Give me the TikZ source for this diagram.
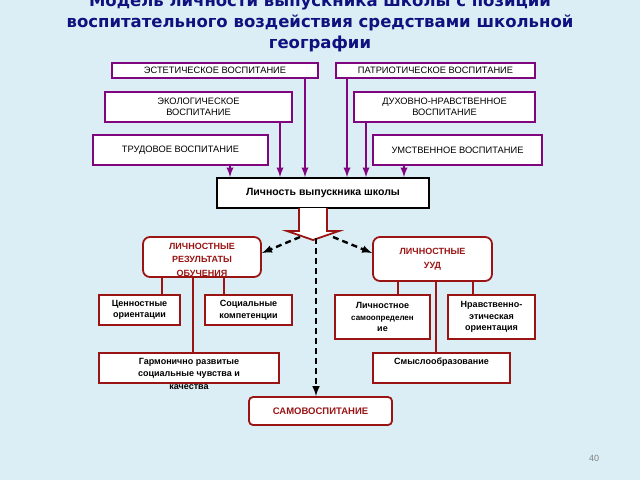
\documentclass[tikz,border=0pt]{standalone}
\usepackage{fontspec}
\setmainfont{Liberation Sans}
\newfontfamily\titlefont{DejaVu Sans}
\usetikzlibrary{arrows,positioning}
\definecolor{bgblue}{HTML}{DCEEF5}
\definecolor{vospit}{HTML}{7F067F}
\definecolor{lichn}{HTML}{9A1414}
\definecolor{navy}{HTML}{10107F}
\tikzset{>=latex,
         vbox/.style={draw=vospit, line width=1.8pt, fill=white, font=\fontsize{9.3}{11}\selectfont,
                      align=center, inner sep=0pt},
         rbox/.style={draw=lichn, line width=1.8pt, fill=white, font=\bfseries\fontsize{9}{11.5}\selectfont,
                      align=center, inner sep=0pt},
         toptext/.style={anchor=north, align=center, inner sep=0pt, yshift=-#1},
         vline/.style={vospit, line width=2.2pt, ->},
         rline/.style={lichn, line width=1.8pt},
         dline/.style={black, line width=2.4pt, dash pattern=on 6pt off 4pt, ->}}
\begin{document}
\begin{tikzpicture}[x=1pt, y=-1pt]
	  \fill[bgblue] (0,0) rectangle (640,480);
	  \useasboundingbox (0,0) rectangle (640,480);
	  \node[font=\titlefont\bfseries\fontsize{16.5}{21}\selectfont, text=navy, align=center]
	    (title) at (320,23) {Модель личности выпускника школы с позиции\\
	      воспитательного воздействия средствами школьной\\ географии};
	  % education directions
	  \node[vbox, minimum width=206, minimum height=15] (est) at (215,70.5) {ЭСТЕТИЧЕСКОЕ ВОСПИТАНИЕ};
	  \node[vbox, minimum width=199, minimum height=15] (pat) at (435.5,70.5) {ПАТРИОТИЧЕСКОЕ ВОСПИТАНИЕ};
	  \node[vbox, minimum width=187, minimum height=30] (eko) at (198.5,107) {ЭКОЛОГИЧЕСКОЕ\\ВОСПИТАНИЕ};
	  \node[vbox, minimum width=181, minimum height=30] (duh) at (444.5,107) {ДУХОВНО-НРАВСТВЕННОЕ\\ВОСПИТАНИЕ};
	  \node[vbox, minimum width=175, minimum height=30] (trud) at (180.5,150) {ТРУДОВОЕ ВОСПИТАНИЕ};
	  \node[vbox, minimum width=169, minimum height=30] (um) at (457.5,150) {УМСТВЕННОЕ ВОСПИТАНИЕ};
	  \node[draw, line width=1.8pt, fill=white, minimum width=212, minimum height=30, inner sep=0pt,
	        font=\bfseries\fontsize{10.5}{12}\selectfont] (lv) at (323,193) {Личность выпускника школы};
	  \draw[vline] (trud.south -| 230,0) -- (lv.north -| 230,0);
	  \draw[vline] (eko.south -| 280,0) -- (lv.north -| 280,0);
	  \draw[vline] (est.south -| 305,0) -- (lv.north -| 305,0);
	  \draw[vline] (pat.south -| 347,0) -- (lv.north -| 347,0);
	  \draw[vline] (duh.south -| 366,0) -- (lv.north -| 366,0);
	  \draw[vline] (um.south -| 404,0) -- (lv.north -| 404,0);
	  % hollow arrow
	  \draw[lichn, line width=1.8pt, fill=white]
	    (299,208) -- (299,231) -- (287,231) -- (313,240) -- (339,231) -- (327,231) -- (327,208);
	  \coordinate (ha) at (313,238);
	  % results
	  \node[rbox, rounded corners=7pt, minimum width=118, minimum height=40, text=lichn,
	        label={[rbox, draw=none, fill=none, text=lichn, toptext=6, font=\bfseries\fontsize{9}{13.5}\selectfont]north:ЛИЧНОСТНЫЕ\\РЕЗУЛЬТАТЫ\\ОБУЧЕНИЯ}]
	    (res) at (202,257) {};
	  \node[rbox, rounded corners=7pt, minimum width=119, minimum height=44, text=lichn,
	        font=\bfseries\fontsize{9}{14}\selectfont] (uud) at (432.5,259) {ЛИЧНОСТНЫЕ\\УУД};
	  \node[rbox, rounded corners=4pt, minimum width=143, minimum height=28, text=lichn,
	        font=\bfseries\fontsize{9.5}{11}\selectfont] (samo) at (320.5,411) {САМОВОСПИТАНИЕ};
	  \draw[dline] (ha -| 300,0) ++(0,-1) -- (res.east |- 0,253);
	  \draw[dline] (ha -| 333,0) ++(0,-1) -- (uud.west |- 0,253);
	  \draw[dline] (ha -| 316,0) -- (samo.north -| 316,0);
	  % personal outcomes
	  \node[rbox, minimum width=81, minimum height=30] (cen) at (139.5,310) {Ценностные\\ориентации};
	  \node[rbox, minimum width=87, minimum height=30] (soc) at (248.5,310) {Социальные\\компетенции};
	  \node[rbox, minimum width=95, minimum height=44] (sam) at (382.5,317)
	    {Личностное\\\fontsize{8}{11}\selectfont самоопределен\\ие};
	  \node[rbox, minimum width=87, minimum height=44] (nra) at (491.5,317)
	    {Нравственно-\\этическая\\ориентация};
	  \node[rbox, minimum width=180, minimum height=30,
	        label={[rbox, draw=none, fill=none, toptext=5, font=\bfseries\fontsize{9}{12.5}\selectfont]north:Гармонично развитые\\социальные чувства и\\качества}]
	    (gar) at (189,368) {};
	  \node[rbox, minimum width=137, minimum height=30] (sml) at (441.5,368) {Смыслообразование\\[3pt]};
	  \draw[rline] (res.south -| 162,0) -- (cen.north -| 162,0);
	  \draw[rline] (res.south -| 193,0) -- (gar.north -| 193,0);
	  \draw[rline] (res.south -| 224,0) -- (soc.north -| 224,0);
	  \draw[rline] (uud.south -| 398,0) -- (sam.north -| 398,0);
	  \draw[rline] (uud.south -| 436,0) -- (sml.north -| 436,0);
	  \draw[rline] (uud.south -| 473,0) -- (nra.north -| 473,0);
	  \node[text=gray, font=\fontsize{9}{10}\selectfont] (num) at (594,458) {40};
	\end{tikzpicture}
\end{document}
